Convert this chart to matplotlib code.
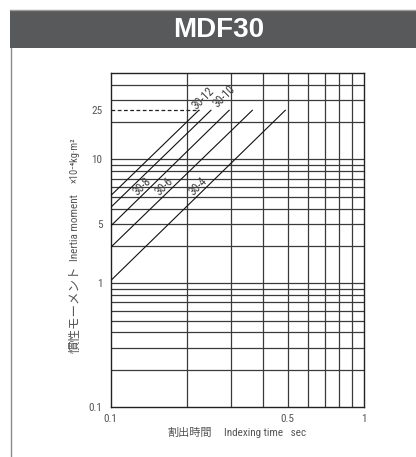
import matplotlib
matplotlib.use("Agg")
import matplotlib.pyplot as plt
from matplotlib.patches import Rectangle
from matplotlib.lines import Line2D
from matplotlib.ticker import FixedLocator, NullFormatter
import numpy as np

# ---- data ----
series_names = ["30-12", "30-10", "30-8", "30-6", "30-4"]
t_start = [0.1, 0.1, 0.1, 0.1, 0.1]          # indexing time at line start (s)
J_start = [5.1, 4.1, 2.9, 1.95, 1.05]        # inertia at line start (x10^-4 kg m^2)
t_end = [0.223, 0.249, 0.294, 0.363, 0.49]   # indexing time where line reaches J_max
J_max = 25.0

x_ticks = [0.1, 0.5, 1.0]
x_ticklabels = ["0.1", "0.5", "1"]
y_ticks = [0.1, 1, 3, 10, 25]
y_ticklabels = ["0.1", "1", "5", "10", "25"]

title = "MDF30"
x_label_jp = "割出時間"
x_label_en = "Indexing time   sec"
y_label_jp = "慣性モーメント"
y_label_en = "Inertia moment"
y_label_unit = "×10⁻⁴kg·m²"

FONT = ["Roboto Condensed", "Noto Sans CJK JP", "DejaVu Sans"]
TXT = "#555555"
GRID = "#3a3a3a"

W, H = 416, 457
fig = plt.figure(figsize=(W / 100, H / 100), dpi=100)

# header bar and frame
fig.patches.append(Rectangle((10 / W, 1 - 47.5 / H), 1 - 10 / W, 38 / H,
                             transform=fig.transFigure, facecolor="#58595b",
                             edgecolor="none", zorder=0))
fig.lines.append(Line2D([10 / W, 1], [1 - 9.5 / H, 1 - 9.5 / H],
                        transform=fig.transFigure, color="#9a9a9a", lw=1))
fig.lines.append(Line2D([10.5 / W, 10.5 / W], [0, 1 - 47.5 / H],
                        transform=fig.transFigure, color="#8a8a8a", lw=1))
fig.text(219 / W, 1 - 30 / H, title, color="white", fontsize=20,
         fontweight="bold", family=["Liberation Sans", "DejaVu Sans"],
         ha="center", va="center")

ax = fig.add_axes([110.7 / W, 1 - 407 / H, 253 / W, 334 / H])
ax.set_xscale("log")
ax.set_yscale("log")
ax.set_xlim(0.1, 1.0)
ax.set_ylim(0.1, 50)

# grid (log paper)
xminor = [m * 0.1 for m in range(2, 10)]
yminor = [m * 0.1 for m in range(2, 10)] + list(range(2, 10)) + [20, 30, 40]
for v in xminor:
    ax.axvline(v, color=GRID, lw=0.9, zorder=1)
for v in yminor + [1, 10]:
    ax.axhline(v, color=GRID, lw=0.9, zorder=1)

for s in ax.spines.values():
    s.set_color("#222222")
    s.set_linewidth(1.0)

# diagonal lines
for name, t0, j0, t1 in zip(series_names, t_start, J_start, t_end):
    ax.plot([t0, t1], [j0, J_max], color="#111111", lw=0.8, zorder=3)

# dashed line at J_max
ax.plot([0.1, t_end[0]], [J_max, J_max], color="#222222", lw=0.9,
        ls=(0, (3, 2)), zorder=3)

# labels on lines
label_J = 6.06
for i, (name, t0, j0, t1) in enumerate(zip(series_names, t_start, J_start, t_end)):
    slope = np.log(J_max / j0) / np.log(t1 / t0)
    if i < 2:
        tx, ty = t1, J_max
        off = [(3.4, 8.6), (9.6, 10.1)][i]
    else:
        tx = t0 * (label_J / j0) ** (1 / slope)
        ty = label_J
        off = (-6.8, 0)
    ax.annotate(name, (tx, ty), xytext=off, textcoords="offset points",
                rotation=45, ha="center", va="center", fontsize=8.5,
                color="#444444", family=FONT, zorder=4)

# ticks
ax.xaxis.set_major_locator(FixedLocator(x_ticks))
ax.set_xticklabels(x_ticklabels)
ax.xaxis.set_minor_locator(FixedLocator([]))
ax.xaxis.set_minor_formatter(NullFormatter())
ax.yaxis.set_major_locator(FixedLocator(y_ticks))
ax.set_yticklabels(y_ticklabels)
ax.yaxis.set_minor_locator(FixedLocator([]))
ax.yaxis.set_minor_formatter(NullFormatter())
ax.tick_params(axis="both", which="both", length=0, labelsize=8, colors=TXT)
ax.tick_params(axis="y", pad=6)
ax.tick_params(axis="x", pad=5)
for lab in ax.get_xticklabels() + ax.get_yticklabels():
    lab.set_family(FONT)

# axis titles
fig.text(212 / W, 1 - 433 / H, x_label_jp, fontsize=8, color=TXT,
         family=["Noto Sans CJK JP"], ha="right", va="center")
fig.text(224 / W, 1 - 433 / H, x_label_en, fontsize=8, color=TXT,
         family=FONT, ha="left", va="center")
fig.text(75 / W, 1 - 353 / H, y_label_jp, fontsize=9, color=TXT,
         family=["Noto Sans CJK JP"], ha="center", va="bottom", rotation=90)
fig.text(75 / W, 1 - 228 / H, y_label_en, fontsize=8, color=TXT,
         family=FONT, ha="center", va="center", rotation=90)
fig.text(75 / W, 1 - 137 / H, y_label_unit, fontsize=7.5, color=TXT,
         family=FONT, ha="center", va="top", rotation=90)

fig.savefig("out.png", dpi=100)
